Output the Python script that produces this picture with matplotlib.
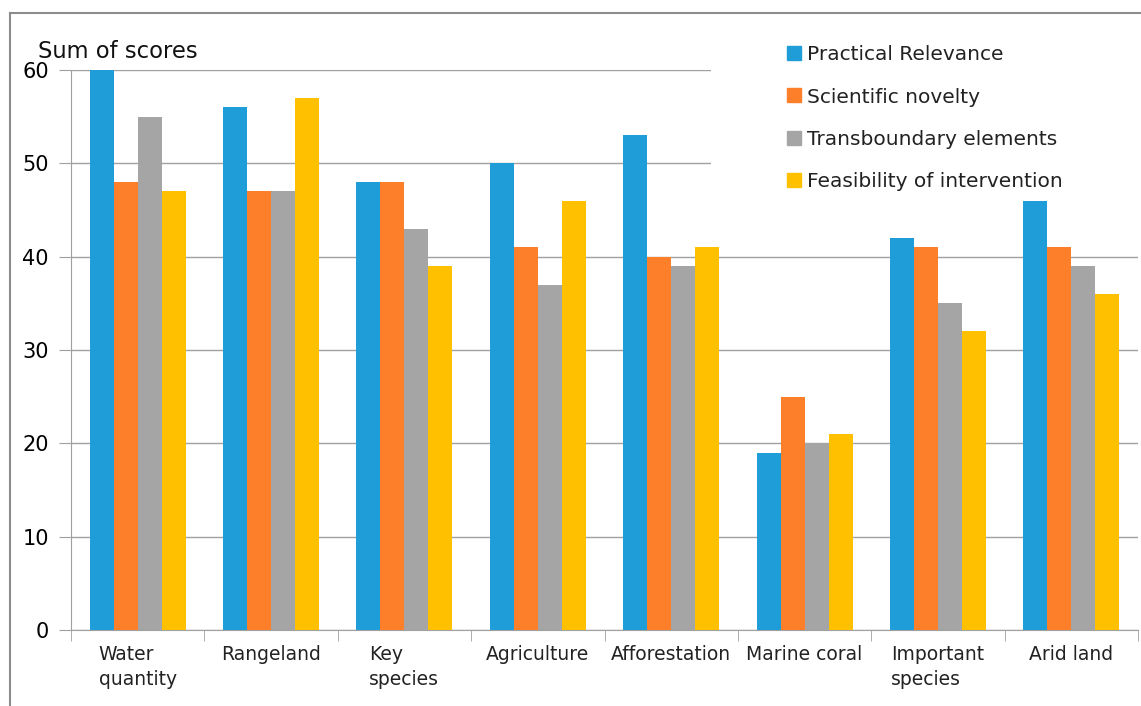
import numpy as np
import matplotlib
matplotlib.use('Agg')
import matplotlib.pyplot as plt
from matplotlib.lines import Line2D
from matplotlib.patches import Rectangle

categories = ['Water\nquantity', 'Rangeland', 'Key\nspecies', 'Agriculture',
              'Afforestation', 'Marine coral', 'Important\nspecies', 'Arid land']
practical = [60, 56, 48, 50, 53, 19, 42, 46]
novelty = [48, 47, 48, 41, 40, 25, 41, 41]
transboundary = [55, 47, 43, 37, 39, 20, 35, 39]
feasibility = [47, 57, 39, 46, 41, 21, 32, 36]

series = {
    'Practical Relevance': practical,
    'Scientific novelty': novelty,
    'Transboundary elements': transboundary,
    'Feasibility of intervention': feasibility,
}
colors = ['#1F9DD9', '#FE7F2A', '#A5A5A5', '#FFC000']

fig = plt.figure(figsize=(11.41, 7.06), dpi=100)
ax = fig.add_axes([0.0622, 0.1076, 0.9352, 0.7932])

x = np.arange(len(categories))
width = 0.18
for i, (name, vals) in enumerate(series.items()):
    ax.bar(x + (i - 1.5) * width, vals, width, color=colors[i], label=name, zorder=3)

ax.set_xlim(-0.5, len(categories) - 0.5)
ax.set_ylim(0, 60)
ax.set_yticks(range(0, 61, 10))
ax.yaxis.grid(True, color='#a0a0a0', linewidth=1.0, zorder=0)
ax.set_axisbelow(True)

# white area behind the legend hides the upper gridlines
ax.add_patch(Rectangle((0.6, 44.5), 0.45, 17, transform=ax.get_yaxis_transform(),
                       facecolor='white', edgecolor='none', zorder=1, clip_on=False))

for s in ['top', 'right']:
    ax.spines[s].set_visible(False)
ax.spines['left'].set_color('#a0a0a0')
ax.spines['bottom'].set_color('#a0a0a0')

ax.set_xticks(x)
ax.set_xticklabels(categories, fontsize=13.5, color='#222222',
                   multialignment='left', linespacing=1.4)
ax.tick_params(axis='x', which='major', length=0, pad=11)
ax.set_xticks(np.arange(-0.5, len(categories), 1), minor=True)
ax.tick_params(axis='x', which='minor', length=8, color='#a0a0a0')
ax.tick_params(axis='y', length=9, color='#a0a0a0', labelsize=15, pad=7)

fig.text(0.033, 0.918, 'Sum of scores', fontsize=16.3, color='#111111')

handles = [Line2D([], [], marker='s', linestyle='none', markersize=10,
                  markerfacecolor=c, markeredgecolor=c) for c in colors]
leg = ax.legend(handles, list(series.keys()), loc='upper left',
                bbox_to_anchor=(0.681, 0.95), bbox_transform=fig.transFigure,
                frameon=False, fontsize=14.5, handlelength=0.7, handletextpad=0.3,
                labelspacing=1.15, borderpad=0)
for t in leg.get_texts():
    t.set_color('#222222')

# outer frame (top and left edges)
fig.add_artist(Line2D([0.0088, 1.0], [0.9816, 0.9816], transform=fig.transFigure,
                      color='#8c8c8c', linewidth=1.5))
fig.add_artist(Line2D([0.0088, 0.0088], [0.0, 0.9816], transform=fig.transFigure,
                      color='#8c8c8c', linewidth=1.5))

fig.savefig('out.png', dpi=100)
